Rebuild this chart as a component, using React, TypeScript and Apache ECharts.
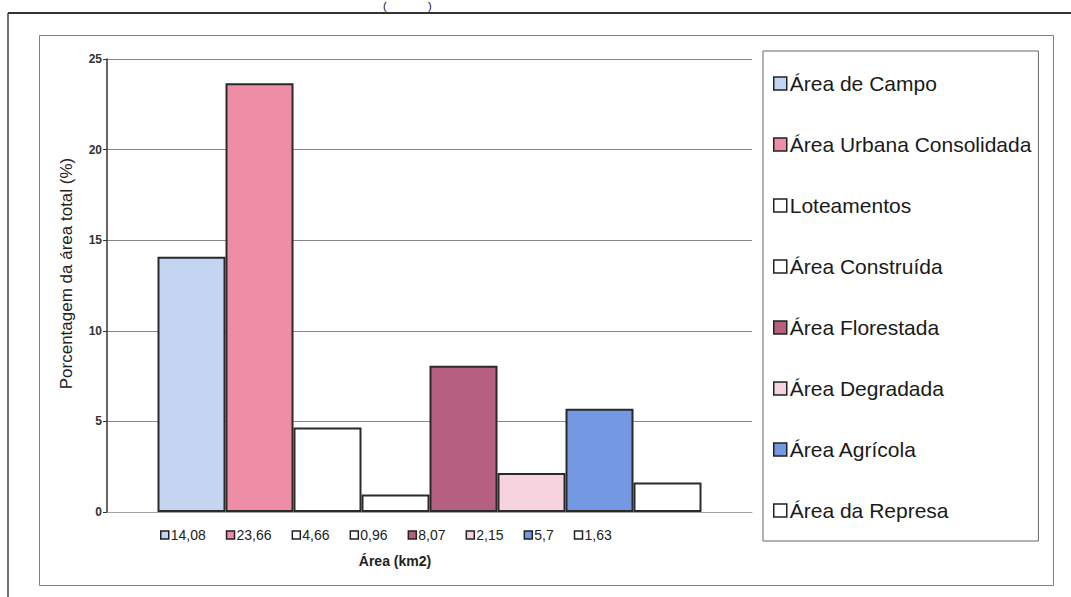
import React, { useEffect, useRef } from "react";
import * as echarts from "echarts";

const seriesNames = [
  "Área de Campo",
  "Área Urbana Consolidada",
  "Loteamentos",
  "Área Construída",
  "Área Florestada",
  "Área Degradada",
  "Área Agrícola",
  "Área da Represa",
];
const areaValues = [14.08, 23.66, 4.66, 0.96, 8.07, 2.15, 5.7, 1.63];
const seriesColors = [
  "#c3d5f2",
  "#ee8ea6",
  "#ffffff",
  "#ffffff",
  "#b5607f",
  "#f7d3e0",
  "#7598e2",
  "#ffffff",
];
const yTicks = [0, 5, 10, 15, 20, 25];
const category = ["Área (km2)"];

const fmt = (v: number) => String(v).replace(".", ",");

export default function App() {
  const ref = useRef<HTMLDivElement>(null);
  useEffect(() => {
    if (!ref.current) return;
    const chart = echarts.init(ref.current, undefined, { renderer: "svg" });
    const font = "'Liberation Sans', Arial, sans-serif";
    const valueByName: Record<string, number> = {};
    seriesNames.forEach((n, i) => (valueByName[n] = areaValues[i]));

    chart.setOption({
      animation: false,
      backgroundColor: "#ffffff",
      textStyle: { fontFamily: font },
      grid: { left: 107, right: 319, top: 59, bottom: 85 },
      xAxis: {
        type: "category",
        data: category,
        name: "Área (km2)",
        nameLocation: "middle",
        nameGap: 42,
        nameTextStyle: {
          fontFamily: font,
          fontSize: 14,
          fontWeight: "bold",
          color: "#222",
          padding: [0, 69, 0, 0],
        },
        axisLine: { show: true, lineStyle: { color: "#aaa", type: "dotted", width: 1 } },
        axisTick: { show: false },
        axisLabel: { show: false },
      },
      yAxis: {
        type: "value",
        min: yTicks[0],
        max: yTicks[yTicks.length - 1],
        interval: 5,
        name: "Porcentagem da área total (%)",
        nameLocation: "middle",
        nameGap: 32,
        nameTextStyle: {
          fontFamily: font,
          fontSize: 17,
          color: "#222",
          padding: [0, 0, 0, 24],
        },
        axisLine: { show: true, lineStyle: { color: "#333", width: 1.5 } },
        axisTick: { show: true, length: 4, lineStyle: { color: "#333" } },
        axisLabel: {
          fontFamily: font,
          fontSize: 12,
          fontWeight: "bold",
          color: "#333",
          margin: 5,
        },
        splitLine: { show: true, lineStyle: { color: "#888", width: 1 } },
      },
      legend: [
        {
          data: seriesNames,
          orient: "vertical",
          left: 763,
          top: 51,
          padding: [22, 7, 20, 10],
          itemGap: 40,
          itemWidth: 13,
          itemHeight: 13,
          itemStyle: { borderColor: "#222", borderWidth: 1.5 },
          icon: "rect",
          borderColor: "#666",
          borderWidth: 1,
          textStyle: {
            fontFamily: font,
            fontSize: 21,
            lineHeight: 20,
            color: "#1a1a1a",
            padding: [0, 0, 0, -2],
          },
        },
        {
          data: seriesNames,
          orient: "horizontal",
          left: 160,
          top: 528,
          padding: 0,
          itemGap: 20,
          itemWidth: 8,
          itemHeight: 8,
          icon: "rect",
          selectedMode: false,
          itemStyle: { borderColor: "#222", borderWidth: 1.5 },
          formatter: (name: string) => fmt(valueByName[name]),
          textStyle: {
            fontFamily: font,
            fontSize: 14,
            color: "#222",
            padding: [0, 0, 0, -3],
          },
        },
      ],
      series: seriesNames.map((name, i) => ({
        name,
        type: "bar",
        data: [areaValues[i]],
        barWidth: 68,
        barGap: "0%",
        itemStyle: {
          color: seriesColors[i],
          borderColor: "#2a2a2a",
          borderWidth: 2,
        },
      })),
      graphic: [
        {
          type: "line",
          shape: { x1: 8, y1: 13, x2: 1071, y2: 13 },
          style: { stroke: "#333", lineWidth: 2 },
        },
        {
          type: "line",
          shape: { x1: 8, y1: 13, x2: 8, y2: 597 },
          style: { stroke: "#444", lineWidth: 1.5 },
        },
        {
          type: "rect",
          shape: { x: 39.5, y: 35.5, width: 1014, height: 550 },
          style: { fill: "none", stroke: "#808080", lineWidth: 1 },
          silent: true,
        },
        {
          type: "text",
          x: 383,
          y: 0,
          style: {
            text: "(",
            fontFamily: font,
            fontSize: 11,
            fill: "#111",
            verticalAlign: "top",
          },
        },
        {
          type: "text",
          x: 428,
          y: 0,
          style: {
            text: ")",
            fontFamily: font,
            fontSize: 11,
            fill: "#111",
            verticalAlign: "top",
          },
        },
      ],
    });
    return () => chart.dispose();
  }, []);

  return (
    <div style={{ position: "fixed", left: 0, top: 0, width: 1071, height: 597, background: "#fff" }}>
      <div ref={ref} style={{ width: 1071, height: 597 }} />
    </div>
  );
}
